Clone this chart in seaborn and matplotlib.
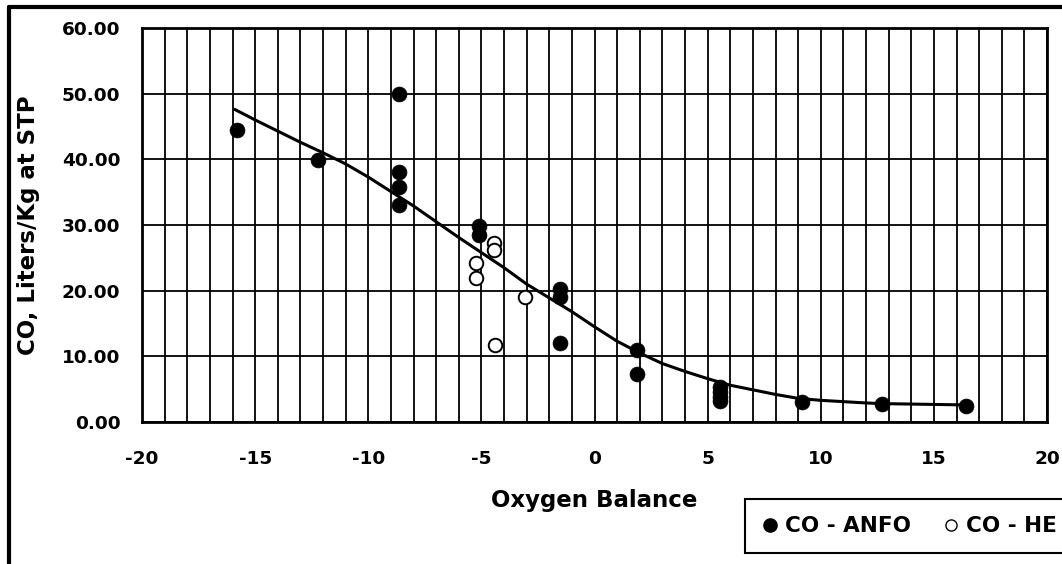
import numpy as np
import pandas as pd
import matplotlib
matplotlib.use("Agg")
import matplotlib.pyplot as plt
from matplotlib.lines import Line2D
import seaborn as sns

# ---- data ----
anfo_x = [-15.8, -12.2, -8.65, -8.65, -8.65, -8.65, -5.1, -5.1, -1.53, -1.53, -1.53,
          1.86, 1.86, 5.55, 5.55, 5.55, 5.55, 9.16, 12.7, 16.4]
anfo_y = [44.4, 39.9, 50.0, 38.1, 35.8, 33.0, 29.9, 28.5, 20.2, 19.1, 12.1,
          11.0, 7.3, 5.3, 4.5, 3.8, 3.2, 3.1, 2.8, 2.5]
he_x = [-4.45, -4.45, -5.25, -5.25, -3.07, -4.4]
he_y = [27.2, 26.2, 24.2, 22.0, 19.0, 11.7]
fit_x = [-15.9, -15, -14, -13, -12, -11, -10, -9, -8, -7, -6, -5, -4, -3, -2, -1,
         0, 1, 2, 3, 4, 5, 6, 7, 8, 9, 10, 11, 12, 12.7, 16.4]
fit_y = [47.6, 46.0, 44.3, 42.6, 41.0, 39.3, 37.3, 35.1, 32.9, 30.5, 28.1, 25.8,
         23.5, 21.0, 18.9, 16.8, 14.5, 12.3, 10.5, 8.9, 7.7, 6.6, 5.6, 4.9, 4.2,
         3.6, 3.3, 3.1, 2.9, 2.8, 2.6]
x_ticks = [-20, -15, -10, -5, 0, 5, 10, 15, 20]
y_ticks = [0, 10, 20, 30, 40, 50, 60]
x_label = "Oxygen Balance"
y_label = "CO, Liters/Kg at STP"
legend_labels = ["CO - ANFO", "CO - HE"]

sns.set_theme(style="white")
plt.rcParams["font.family"] = ["DejaVu Sans"]
plt.rcParams["font.weight"] = "bold"
plt.rcParams["text.color"] = "black"
plt.rcParams["axes.labelcolor"] = "black"

fig = plt.figure(figsize=(10.62, 5.64), dpi=100)
ax = fig.add_axes([142 / 1062, 1 - 422 / 564, (1047 - 142) / 1062, (422 - 28) / 564])

fit_df = pd.DataFrame({"x": fit_x, "y": fit_y})
anfo_df = pd.DataFrame({"x": anfo_x, "y": anfo_y})
he_df = pd.DataFrame({"x": he_x, "y": he_y})

sns.lineplot(data=fit_df, x="x", y="y", ax=ax, color="black", lw=2.2, sort=False,
             estimator=None, zorder=3)
sns.scatterplot(data=anfo_df, x="x", y="y", ax=ax, color="black", s=115,
                edgecolor="black", linewidth=0.5, zorder=4)
sns.scatterplot(data=he_df, x="x", y="y", ax=ax, facecolor="white", s=95,
                edgecolor="black", linewidth=1.4, zorder=4)

ax.set_xlim(-20, 20)
ax.set_ylim(0, 60)
ax.set_xticks(x_ticks)
ax.set_xticklabels([str(t) for t in x_ticks])
ax.set_xticks(np.arange(-20, 21, 1), minor=True)
ax.set_yticks(y_ticks)
ax.set_yticklabels([f"{t:.2f}" for t in y_ticks])
ax.grid(True, which="both", axis="x", color="black", lw=1.3)
ax.grid(True, which="major", axis="y", color="black", lw=1.3)
ax.tick_params(axis="both", which="both", length=0, labelsize=13.3, colors="black")
ax.tick_params(axis="x", pad=20)
ax.tick_params(axis="y", pad=15.5)
for lab in ax.get_xticklabels() + ax.get_yticklabels():
    lab.set_fontweight("bold")
for sp in ax.spines.values():
    sp.set_visible(True)
    sp.set_color("black")
    sp.set_linewidth(2)

ax.set_xlabel(x_label, fontsize=16.5, fontweight="bold", labelpad=15, color="black")
ax.set_ylabel(y_label, fontsize=16.5, fontweight="bold", labelpad=16, color="black")

handles = [
    Line2D([], [], marker="o", ls="", markerfacecolor="black", markeredgecolor="black",
           markersize=9.5),
    Line2D([], [], marker="o", ls="", markerfacecolor="white", markeredgecolor="black",
           markersize=8, markeredgewidth=1.0),
]
leg = ax.legend(handles, legend_labels, loc="lower left",
                bbox_to_anchor=(745 / 1062, 1 - 553 / 564), bbox_transform=fig.transFigure,
                ncol=2, frameon=True, fancybox=False, edgecolor="black", framealpha=1,
                prop={"size": 15.5, "weight": "bold"}, handletextpad=0.3,
                columnspacing=1.45, handlelength=0.8, borderpad=0.78, borderaxespad=0,
                labelcolor="black")
leg.get_frame().set_linewidth(1.5)
leg.get_frame().set_edgecolor("black")

# outer frame (left and top edges visible)
fig.add_artist(Line2D([9 / 1062, 9 / 1062], [0, 1 - 7 / 564], transform=fig.transFigure,
                      color="black", lw=3))
fig.add_artist(Line2D([9 / 1062, 1], [1 - 7 / 564, 1 - 7 / 564], transform=fig.transFigure,
                      color="black", lw=3))

fig.savefig("out.png", dpi=100)
